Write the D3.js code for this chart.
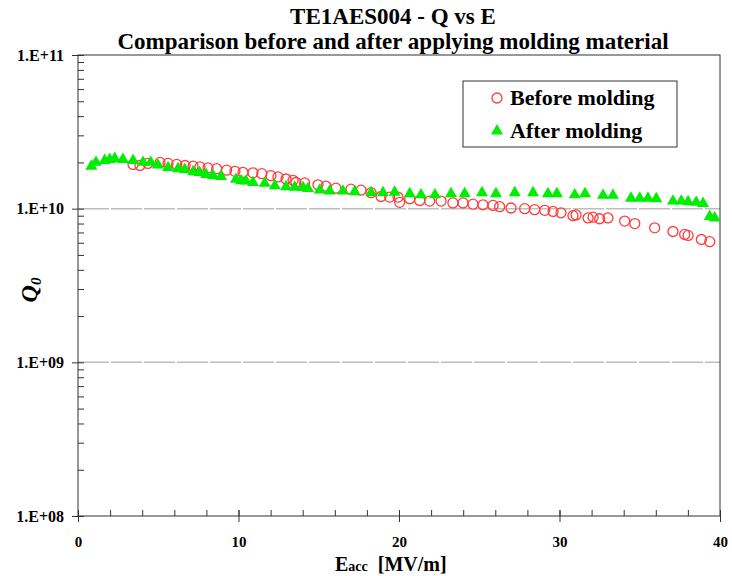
<!DOCTYPE html>
<html>
<head>
<meta charset="utf-8">
<script src="https://cdn.jsdelivr.net/npm/d3@7"></script>
<style>
  body { margin: 0; background: #fff; }
  svg { display: block; font-family: "Liberation Serif", "Times New Roman", serif; }
  .axis path, .axis line { stroke: #333; }
  .axis text { font-size: 16px; font-weight: bold; fill: #000; font-family: "Liberation Serif", serif; }
  .axis.x text { font-size: 15px; }
</style>
</head>
<body>
<svg id="chart" width="732" height="576"></svg>
<script>
// Before molding: Eacc [MV/m] and Q0
const beforeE = [3.43, 3.86, 4.36, 5.11, 5.61, 6.15, 6.67, 7.17, 7.60, 8.10, 8.64, 9.26, 9.78,
  10.28, 10.90, 11.45, 12.02, 12.46, 12.96, 13.40, 13.58, 14.12, 14.95, 15.45, 16.07, 17.01,
  17.63, 18.26, 18.88, 19.42, 19.94, 20.04, 20.67, 21.29, 21.91, 22.62, 23.36, 23.99, 24.61,
  25.23, 25.86, 26.27, 26.98, 27.83, 28.45, 29.08, 29.60, 30.09, 30.84, 31.03, 31.78, 32.09,
  32.50, 33.02, 34.06, 34.69, 35.93, 37.07, 37.80, 38.01, 38.84, 39.36]
const beforeQ = [1.94e10, 1.91e10, 1.97e10, 2.00e10, 1.97e10, 1.94e10, 1.91e10, 1.89e10, 1.87e10,
  1.84e10, 1.82e10, 1.78e10, 1.75e10, 1.72e10, 1.71e10, 1.69e10, 1.64e10, 1.61e10, 1.56e10,
  1.53e10, 1.48e10, 1.47e10, 1.43e10, 1.40e10, 1.36e10, 1.34e10, 1.32e10, 1.27e10, 1.20e10,
  1.19e10, 1.19e10, 1.10e10, 1.16e10, 1.13e10, 1.12e10, 1.12e10, 1.09e10, 1.09e10, 1.07e10,
  1.06e10, 1.05e10, 1.03e10, 1.01e10, 1.00e10, 0.985e10, 0.975e10, 0.96e10, 0.94e10, 0.90e10,
  0.91e10, 0.87e10, 0.88e10, 0.86e10, 0.87e10, 0.83e10, 0.80e10, 0.75e10, 0.71e10, 0.68e10,
  0.67e10, 0.63e10, 0.61e10]

// After molding
const afterE = [0.83, 1.12, 1.66, 1.98, 2.29, 2.80, 3.43, 4.05, 4.53, 4.98, 5.61, 6.23, 6.65,
  7.17, 7.58, 7.98, 8.41, 8.91, 9.84, 10.16, 10.47, 10.90, 11.63, 12.26, 12.96, 13.50, 14.02,
  14.33, 15.06, 15.68, 16.51, 17.24, 18.26, 19.00, 19.73, 20.67, 21.37, 22.24, 23.24, 24.09,
  25.17, 26.04, 27.21, 28.35, 29.28, 29.84, 30.95, 31.59, 32.71, 33.33, 34.45, 35.00, 35.51,
  36.03, 37.07, 37.59, 38.01, 38.52, 38.94, 39.36, 39.67]
const afterQ = [1.89e10, 2.00e10, 2.06e10, 2.09e10, 2.12e10, 2.09e10, 2.06e10, 2.00e10, 2.00e10,
  1.92e10, 1.85e10, 1.82e10, 1.80e10, 1.74e10, 1.72e10, 1.67e10, 1.64e10, 1.62e10, 1.55e10,
  1.52e10, 1.51e10, 1.48e10, 1.46e10, 1.41e10, 1.39e10, 1.38e10, 1.37e10, 1.35e10, 1.32e10,
  1.30e10, 1.30e10, 1.29e10, 1.27e10, 1.27e10, 1.28e10, 1.25e10, 1.23e10, 1.23e10, 1.25e10,
  1.25e10, 1.27e10, 1.25e10, 1.27e10, 1.27e10, 1.25e10, 1.25e10, 1.23e10, 1.25e10, 1.22e10,
  1.22e10, 1.17e10, 1.17e10, 1.17e10, 1.16e10, 1.12e10, 1.12e10, 1.11e10, 1.10e10, 1.08e10,
  0.89e10, 0.87e10]

const xTicks = [0, 10, 20, 30, 40]
const yTicks = [1e8, 1e9, 1e10, 1e11]
const yTickLabels = ['1.E+08', '1.E+09', '1.E+10', '1.E+11']
const titleLines = ['TE1AES004 - Q vs E', 'Comparison before and after applying molding material']
const legendNames = ['Before molding', 'After molding']

const svg = d3.select('#chart')
const plot = {left: 78, right: 720, top: 55, bottom: 516}

const x = d3.scaleLinear().domain([0, 40]).range([plot.left, plot.right])
const y = d3.scaleLog().domain([1e8, 1e11]).range([plot.bottom, plot.top])

const before = beforeE.map((e, i) => ({e: e, q: beforeQ[i]}))
const after = afterE.map((e, i) => ({e: e, q: afterQ[i]}))

// grid lines at inner decades
svg.append('g')
  .selectAll('line')
  .data(yTicks.slice(1, -1))
  .enter()
  .append('line')
  .attr('x1', plot.left)
  .attr('x2', plot.right)
  .attr('y1', (d) => y(d))
  .attr('y2', (d) => y(d))
  .attr('stroke', '#bdbdbd')
  .attr('stroke-width', 1.5)
  .attr('stroke-dasharray', '31,2')

// frame
svg.append('rect')
  .attr('x', plot.left)
  .attr('y', plot.top)
  .attr('width', plot.right - plot.left)
  .attr('height', plot.bottom - plot.top)
  .attr('fill', 'none')
  .attr('stroke', '#333')

// minor ticks
const minorY = []
yTicks.slice(0, -1).forEach((d) => {
  for (let k = 2; k <= 9; k++) minorY.push(d * k)
})
svg.append('g')
  .attr('class', 'axis')
  .attr('transform', `translate(${plot.left},0)`)
  .call(d3.axisLeft(y).tickValues(minorY).tickSize(-6).tickFormat(''))
  .select('.domain').remove()

svg.append('g')
  .attr('class', 'axis')
  .attr('transform', `translate(0,${plot.bottom})`)
  .call(d3.axisBottom(x).tickValues(d3.range(2, 40, 2)).tickSize(-6).tickFormat(''))
  .select('.domain').remove()

// major axes
const yAxis = svg.append('g')
  .attr('class', 'axis')
  .attr('transform', `translate(${plot.left},0)`)
  .call(d3.axisLeft(y).tickValues(yTicks).tickSize(6).tickPadding(8)
    .tickFormat((d, i) => yTickLabels[i]))
yAxis.selectAll('.tick line').attr('x2', -6).attr('x1', 6)
yAxis.select('.domain').remove()

const xAxis = svg.append('g')
  .attr('class', 'axis x')
  .attr('transform', `translate(0,${plot.bottom})`)
  .call(d3.axisBottom(x).tickValues(xTicks).tickSize(6).tickPadding(14))
xAxis.selectAll('.tick line').attr('y1', -6).attr('y2', 6)
xAxis.select('.domain').remove()

// data
svg.append('g')
  .selectAll('circle')
  .data(before)
  .enter()
  .append('circle')
  .attr('cx', (d) => x(d.e))
  .attr('cy', (d) => y(d.q))
  .attr('r', 5)
  .attr('fill', 'none')
  .attr('stroke', '#ff3b3b')
  .attr('stroke-width', 1.3)

const tri = d3.symbol(d3.symbolTriangle, 62)
svg.append('g')
  .selectAll('path')
  .data(after)
  .enter()
  .append('path')
  .attr('d', tri)
  .attr('transform', (d) => `translate(${x(d.e)},${y(d.q)})`)
  .attr('fill', '#00ee00')

// titles
svg.append('g')
  .selectAll('text')
  .data(titleLines)
  .enter()
  .append('text')
  .attr('x', 393)
  .attr('y', (d, i) => 24 + i * 25)
  .attr('text-anchor', 'middle')
  .attr('font-size', 23)
  .attr('font-weight', 'bold')
  .text((d) => d)

const xLabel = svg.append('text')
  .attr('x', 335)
  .attr('y', 571)
  .attr('font-size', 20)
  .attr('font-weight', 'bold')
xLabel.append('tspan').text('E')
xLabel.append('tspan').attr('font-size', 14).text('acc')
xLabel.append('tspan').attr('dx', 10).text('[MV/m]')

const yLabel = svg.append('text')
  .attr('transform', 'translate(37,290) rotate(-90)')
  .attr('text-anchor', 'middle')
  .attr('font-size', 24)
  .attr('font-weight', 'bold')
  .attr('font-style', 'italic')
yLabel.append('tspan').text('Q')
yLabel.append('tspan').attr('font-size', 15).attr('dy', 4).text('0')

// legend
const legend = svg.append('g')
legend.append('rect')
  .attr('x', 463)
  .attr('y', 81)
  .attr('width', 214)
  .attr('height', 66)
  .attr('fill', '#fff')
  .attr('stroke', '#333')

legend.append('circle')
  .attr('cx', 497)
  .attr('cy', 98)
  .attr('r', 5)
  .attr('fill', 'none')
  .attr('stroke', '#ff3b3b')
  .attr('stroke-width', 1.3)
legend.append('path')
  .attr('d', tri)
  .attr('transform', 'translate(497,131)')
  .attr('fill', '#00ee00')

legend.selectAll('text.name')
  .data(legendNames)
  .enter()
  .append('text')
  .attr('class', 'name')
  .attr('x', 510)
  .attr('y', (d, i) => 105 + i * 33)
  .attr('font-size', 22)
  .attr('font-weight', 'bold')
  .text((d) => d)
</script>
</body>
</html>
